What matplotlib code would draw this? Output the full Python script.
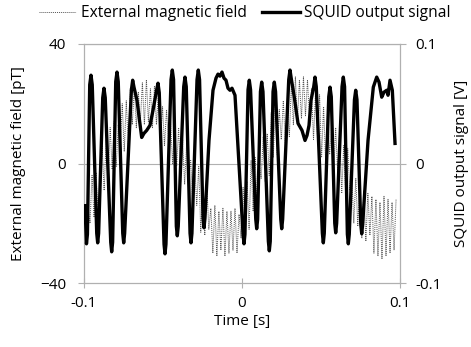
import matplotlib
matplotlib.use('Agg')
import matplotlib.pyplot as plt
import numpy as np

plt.rcParams['font.family'] = ['Open Sans', 'DejaVu Sans']

# external magnetic field [pT], sampled evenly from -0.1 s to 0.0975 s
field_pT = [-13, -24, -14,
            -20, -4, -18, -3, -17,
            -8, 6, -9, 8, -6,
            12, -2, 14, -1, 13,
            5, 20, 4, 21, 6,
            25, 13, 26, 12, 24,
            14, 27, 13, 28, 14,
            25, 12, 26, 13, 24,
            7, 19, 6, 18, 7,
            14, 0, 13, -1, 12,
            -6, 8, -7, 7, -5,
            1, -13, 0, -14, -1,
            -23, -8, -24, -7, -22,
            -15, -30, -14, -31, -16,
            -29, -15, -31, -16, -30,
            -16, -29, -15, -30, -17,
            -25, -8, -26, -6, -22,
            1, -16, 2, -17, 0,
            -5, 9, -6, 10, -4,
            17, 2, 19, 3, 18,
            8, 21, 7, 20, 9,
            27, 13, 29, 14, 28,
            15, 29, 16, 28, 15,
            25, 8, 24, 9, 23,
            2, 19, 1, 18, 3,
            13, -4, 12, -3, 11,
            -10, 6, -11, 5, -9,
            -4, -20, -5, -21, -6,
            -25, -9, -26, -10, -24,
            -11, -30, -12, -31, -13,
            -32, -11, -31, -12, -30,
            -13, -29, -12]
field_t = np.linspace(-0.1, 0.0975, len(field_pT))

# SQUID output signal [V]
squid_t = [-0.09937, -0.09842, -0.09782, -0.09637, -0.09557, -0.09477,
           -0.09193, -0.09133, -0.09073, -0.08814, -0.08734, -0.08654,
           -0.08307, -0.08247, -0.08187, -0.07991, -0.07911, -0.07831,
           -0.07547, -0.07487, -0.07427, -0.06998, -0.06918, -0.06838,
           -0.06646, -0.06348, -0.06203, -0.06032, -0.05823, -0.05633,
           -0.05396, -0.05316, -0.05236, -0.04933, -0.04873, -0.04813,
           -0.04491, -0.04411, -0.04331, -0.04155, -0.04095, -0.04035,
           -0.03688, -0.03608, -0.03528, -0.03288, -0.03228, -0.03168,
           -0.02846, -0.02766, -0.02686, -0.02465, -0.02405, -0.02345,
           -0.02089, -0.01835, -0.01646, -0.01519, -0.01392, -0.01266,
           -0.01139, -0.01013, -0.00886, -0.00759, -0.00633, -0.00443,
           0.00067, 0.00127, 0.00187, 0.00382, 0.00462, 0.00542,
           0.00870, 0.00930, 0.00990, 0.01167, 0.01247, 0.01327,
           0.01668, 0.01728, 0.01788, 0.01964, 0.02044, 0.02124,
           0.02453, 0.02513, 0.02573, 0.02958, 0.03038, 0.03118,
           0.03291, 0.03544, 0.03797, 0.03987, 0.04114, 0.04241, 0.04367,
           0.04540, 0.04620, 0.04700, 0.05086, 0.05146, 0.05206,
           0.05490, 0.05570, 0.05650, 0.05870, 0.05930, 0.05990,
           0.06331, 0.06411, 0.06491, 0.06668, 0.06728, 0.06788,
           0.07116, 0.07196, 0.07276, 0.07516, 0.07576, 0.07636,
           0.07975, 0.08310, 0.08525, 0.08671, 0.08842, 0.08987,
           0.09158, 0.09241, 0.09367, 0.09513, 0.09684]
squid_V = [-0.0353, -0.0672, -0.0592, 0.0659, 0.0739, 0.0659,
           -0.0584, -0.0664, -0.0584, 0.0550, 0.0630, 0.0550,
           -0.0659, -0.0739, -0.0659, 0.0685, 0.0765, 0.0685,
           -0.0584, -0.0664, -0.0584, 0.0617, 0.0697, 0.0640,
           0.0529, 0.0218, 0.0252, 0.0277, 0.0319, 0.0445,
           0.0620, 0.0672, 0.0592, -0.0676, -0.0756, -0.0676,
           0.0702, 0.0782, 0.0702, -0.0525, -0.0605, -0.0525,
           0.0643, 0.0723, 0.0643, -0.0584, -0.0664, -0.0584,
           0.0702, 0.0782, 0.0702, -0.0458, -0.0538, -0.0458,
           0.0193, 0.0613, 0.0714, 0.0748, 0.0731, 0.0765,
           0.0714, 0.0697, 0.0630, 0.0613, 0.0630, 0.0571,
           -0.0592, -0.0672, -0.0592, 0.0617, 0.0697, 0.0617,
           -0.0466, -0.0546, -0.0466, 0.0601, 0.0681, 0.0601,
           -0.0651, -0.0731, -0.0651, 0.0601, 0.0681, 0.0601,
           -0.0466, -0.0546, -0.0466, 0.0702, 0.0782, 0.0710,
           0.0571, 0.0336, 0.0277, 0.0193, 0.0235, 0.0319, 0.0529,
           0.0643, 0.0723, 0.0643, -0.0584, -0.0664, -0.0584,
           0.0559, 0.0639, 0.0559, -0.0500, -0.0580, -0.0500,
           0.0643, 0.0723, 0.0643, -0.0592, -0.0672, -0.0592,
           0.0533, 0.0613, 0.0533, -0.0508, -0.0588, -0.0508,
           0.0193, 0.0639, 0.0723, 0.0681, 0.0555, 0.0597,
           0.0613, 0.0571, 0.0697, 0.0613, 0.0168]

fig = plt.figure(figsize=(4.71, 3.47), dpi=100)
ax = fig.add_axes([0.1783, 0.1844, 0.671, 0.6888])
ax2 = ax.twinx()

grey = '#b0b0b0'
l1, = ax.plot(field_t, field_pT, color='#555555', lw=0.7, ls=(0, (1, 1)),
              label='External magnetic field', zorder=2)
l2, = ax2.plot(squid_t, squid_V, color='black', lw=2.4,
               label='SQUID output signal', zorder=3)

ax.set_xlim(-0.1, 0.1)
ax.set_ylim(-40, 40)
ax2.set_ylim(-0.1, 0.1)
ax.set_xticks([-0.1, 0, 0.1])
ax.set_xticklabels(['-0.1', '0', '0.1'])
ax.set_yticks([-40, 0, 40])
ax2.set_yticks([-0.1, 0, 0.1])
ax2.set_yticklabels(['-0.1', '0', '0.1'])
ax.axhline(0, color=grey, lw=0.8, zorder=1)
ax.axhline(40, color=grey, lw=0.8, zorder=1)

for a in (ax, ax2):
    for s in a.spines.values():
        s.set_color(grey)
        s.set_linewidth(0.8)
    a.tick_params(colors=grey, labelcolor='black', labelsize=11, width=0.8, length=4)
ax.tick_params(axis='x', direction='inout', length=7, pad=6)
ax.tick_params(axis='y', pad=9)
ax2.tick_params(axis='y', pad=7)
ax2.set_zorder(ax.get_zorder() + 1)
ax2.patch.set_visible(False)

ax.set_xlabel('Time [s]', fontsize=11, labelpad=2)
ax.set_ylabel('External magnetic field [pT]', fontsize=11, labelpad=10)
ax2.set_ylabel('SQUID output signal [V]', fontsize=11, rotation=90, labelpad=9)

fig.legend(handles=[l1, l2], loc='upper center', bbox_to_anchor=(0.52, 1.025),
           ncol=2, frameon=False, fontsize=11.2, handlelength=2.4,
           handletextpad=0.3, columnspacing=1.0)

fig.savefig('out.png', dpi=100)
